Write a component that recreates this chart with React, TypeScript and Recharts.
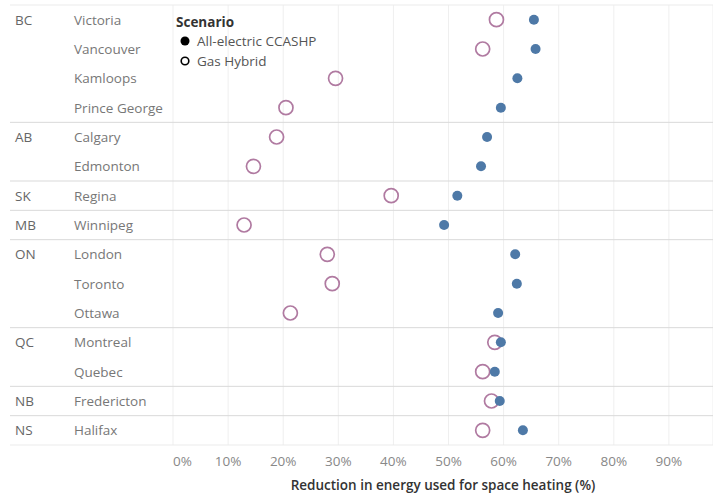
import React from "react";
import {
  ScatterChart,
  Scatter,
  XAxis,
  YAxis,
  CartesianGrid,
  ReferenceLine,
  Legend,
} from "recharts";

const cities = [
  "Victoria",
  "Vancouver",
  "Kamloops",
  "Prince George",
  "Calgary",
  "Edmonton",
  "Regina",
  "Winnipeg",
  "London",
  "Toronto",
  "Ottawa",
  "Montreal",
  "Quebec",
  "Fredericton",
  "Halifax",
];
const provinces = ["BC", "BC", "BC", "BC", "AB", "AB", "SK", "MB", "ON", "ON", "ON", "QC", "QC", "NB", "NS"];

// reduction in space heating energy, %
const electricReduction = [65.5, 65.8, 62.5, 59.5, 57.0, 55.9, 51.6, 49.2, 62.1, 62.4, 59.0, 59.5, 58.4, 59.3, 63.5];
const gasHybridReduction = [58.7, 56.2, 29.5, 20.5, 18.8, 14.6, 39.6, 12.9, 28.0, 28.9, 21.3, 58.4, 56.2, 57.8, 56.2];

const xTicks = [0, 10, 20, 30, 40, 50, 60, 70, 80, 90];

const BLUE = "#4e79a7";
const PURPLE = "#b07aa1";
const FONT = "'Open Sans', sans-serif";

const electricData = cities.map((city, i) => ({ row: i, city, value: electricReduction[i] }));
const gasData = cities.map((city, i) => ({ row: i, city, value: gasHybridReduction[i] }));

const isGroupStart = (i: number) => i === 0 || provinces[i] !== provinces[i - 1];

const groupEdges: number[] = [];
cities.forEach((_, i) => {
  if (isGroupStart(i)) groupEdges.push(i - 0.5);
});
groupEdges.push(cities.length - 0.5);

function CityTick({ y, payload }: any) {
  const i = payload.value as number;
  return (
    <g>
      {isGroupStart(i) && (
        <text x={15} y={y} dy={5} fill="#666" fontSize={13.5}>
          {provinces[i]}
        </text>
      )}
      <text x={74} y={y} dy={5} fill="#777" fontSize={13.5}>
        {cities[i]}
      </text>
    </g>
  );
}

function PctTick({ x, y, payload }: any) {
  const v = payload.value as number;
  return (
    <text x={x} y={y} dy={13} textAnchor={v === 0 ? "start" : "middle"} fill="#888" fontSize={13.5}>
      {v}%
    </text>
  );
}

const separator = (edge: number) => (props: any) => {
  const outer = edge < 0 || edge > cities.length - 1;
  return (
    <line
      x1={10}
      y1={props.y1}
      x2={props.x2}
      y2={props.y2}
      stroke={outer ? "#ebebeb" : "#d9d9d9"}
      strokeWidth={1}
    />
  );
};

const legendItems = [
  { name: "All-electric CCASHP", filled: true },
  { name: "Gas Hybrid", filled: false },
];

function ScenarioLegend() {
  return (
    <div style={{ fontFamily: FONT, fontSize: 13.5 }}>
      <div style={{ fontWeight: 700, color: "#333", lineHeight: "18px" }}>Scenario</div>
      {legendItems.map((item) => (
        <div key={item.name} style={{ display: "flex", alignItems: "center", lineHeight: "20px", color: "#555" }}>
          <svg width={21} height={20} style={{ flex: "none" }}>
            {item.filled ? (
              <circle cx={9} cy={10} r={4.5} fill="#000" />
            ) : (
              <circle cx={9} cy={10} r={3.8} fill="none" stroke="#000" strokeWidth={1.6} />
            )}
          </svg>
          <span>{item.name}</span>
        </div>
      ))}
    </div>
  );
}

export default function App() {
  return (
    <div style={{ position: "absolute", left: 0, top: 0, width: 713, height: 495, background: "#fff", fontFamily: FONT }}>
      <ScatterChart width={713} height={495} margin={{ top: 5, right: 0, bottom: 0, left: 10 }}>
        <CartesianGrid vertical horizontal={false} stroke="#efefef" />
        <XAxis
          type="number"
          dataKey="value"
          domain={[0, 98]}
          ticks={xTicks}
          tick={<PctTick />}
          tickLine={false}
          axisLine={false}
          height={50}
          label={{
            value: "Reduction in energy used for space heating (%)",
            position: "insideBottom",
            offset: 5,
            fill: "#333",
            fontSize: 13.5,
            fontWeight: 600,
          }}
        />
        <YAxis
          type="number"
          dataKey="row"
          domain={[-0.5, cities.length - 0.5]}
          ticks={cities.map((_, i) => i)}
          interval={0}
          reversed
          width={163}
          tick={<CityTick />}
          tickLine={false}
          axisLine={false}
        />
        {groupEdges.map((edge) => (
          <ReferenceLine key={edge} y={edge} shape={separator(edge)} />
        ))}
        <Legend
          layout="vertical"
          align="center"
          verticalAlign="middle"
          content={() => <ScenarioLegend />}
          wrapperStyle={{ top: 13, left: 176, width: 200 }}
        />
        <Scatter
          name="Gas Hybrid"
          data={gasData}
          isAnimationActive={false}
          shape={(p: any) => <circle cx={p.cx} cy={p.cy} r={7} fill="none" stroke={PURPLE} strokeWidth={1.7} />}
        />
        <Scatter
          name="All-electric CCASHP"
          data={electricData}
          isAnimationActive={false}
          shape={(p: any) => <circle cx={p.cx} cy={p.cy} r={5} fill={BLUE} />}
        />
      </ScatterChart>
    </div>
  );
}
